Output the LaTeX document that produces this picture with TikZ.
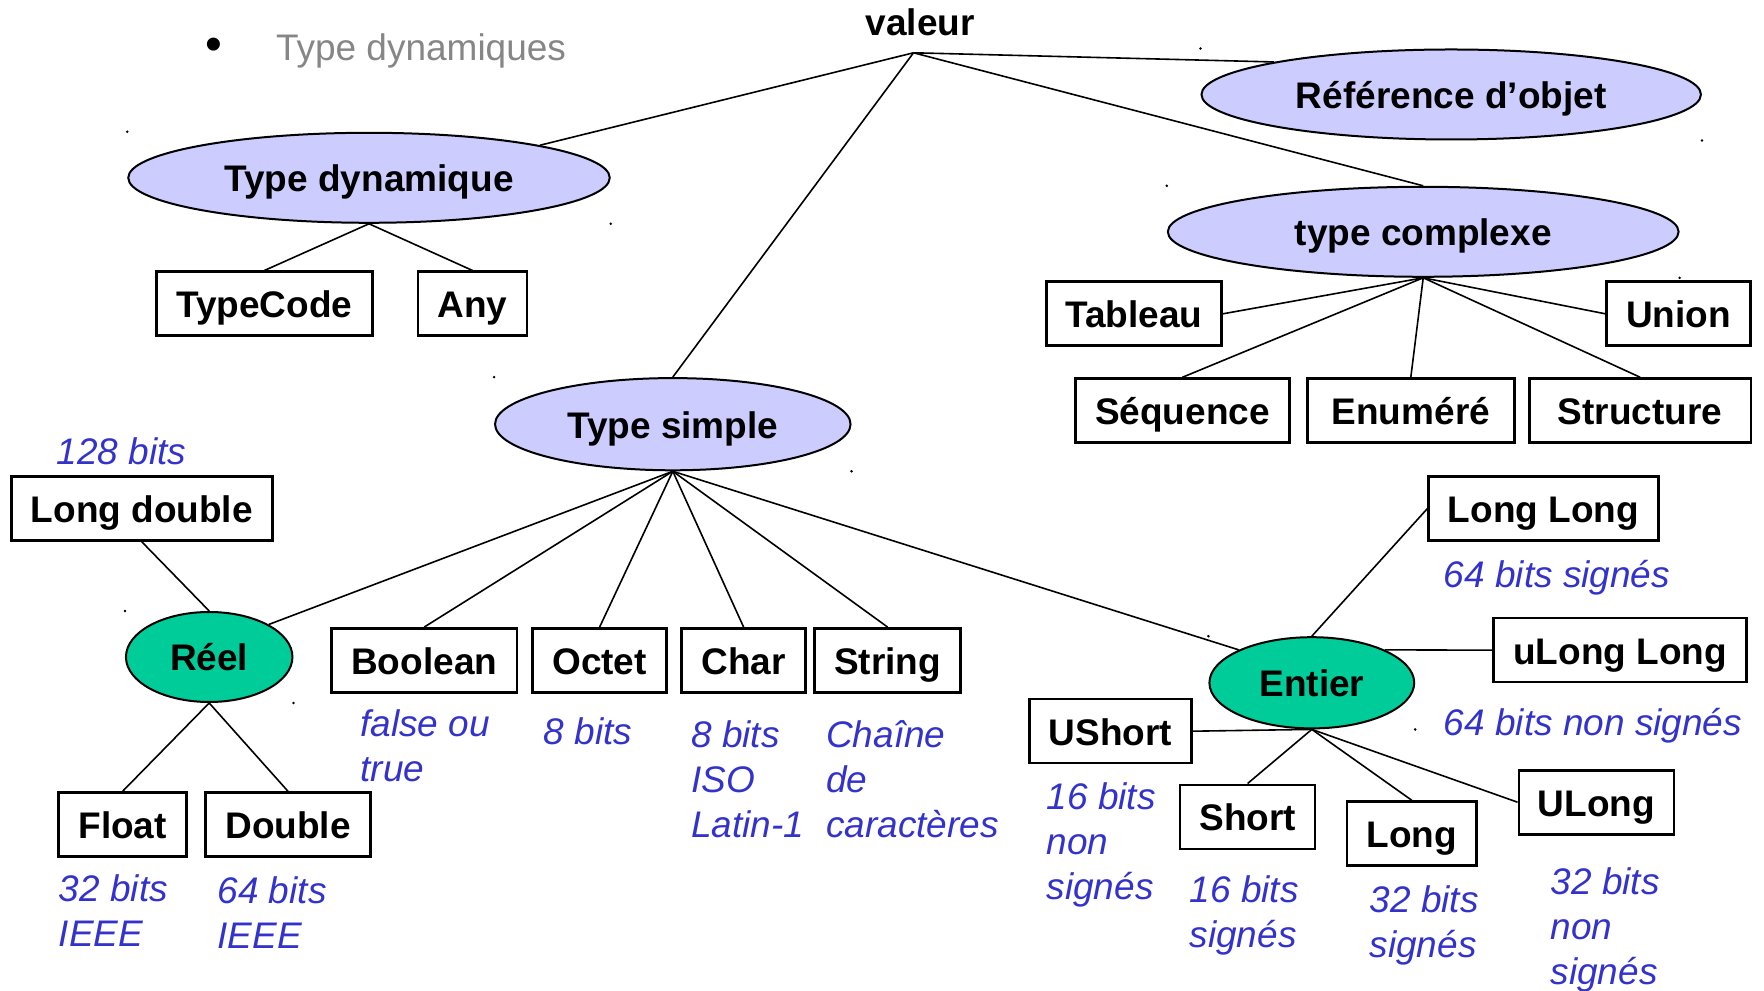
\documentclass[tikz,border=0pt]{standalone}
\usepackage{fontspec}
\setmainfont{Liberation Sans}
\usetikzlibrary{shapes.geometric}
\definecolor{lavande}{HTML}{CCCCFF}
\definecolor{vert}{HTML}{00CC99}
\definecolor{bleu}{HTML}{3333CC}
\definecolor{gris}{HTML}{868686}

\begin{document}
\begin{tikzpicture}[font=\fontsize{18.5}{22.5}\selectfont]

\useasboundingbox (0pt,0pt) rectangle (882pt,495pt);

\tikzset{TypeStyle/.style  = {ellipse, draw, line width=1pt, fill=lavande, inner sep=0pt, text height=14pt, text depth=0pt, font=\fontsize{18.5}{22.5}\selectfont\bfseries},
         NumStyle/.style   = {TypeStyle, fill=vert},
         LeafStyle/.style  = {rectangle, draw, line width=1.3pt, minimum height=32pt, inner sep=0pt, text height=14pt, text depth=0pt, font=\fontsize{18.5}{22.5}\selectfont\bfseries},
         NoteStyle/.style  = {anchor=west, align=left, inner sep=0pt, text=bleu, font=\fontsize{18.5}{22.5}\selectfont\itshape},
         EdgeStyle/.style  = {line width=.8pt, black}}


\node[inner sep=0pt, font=\fontsize{24}{24}\selectfont] (puce) at (106.9pt,470.2pt) {\textbullet};
\node[text=gris, anchor=west, inner sep=0pt] (titre) at (137.8pt,469.6pt) {Type dynamiques};

\node[font=\fontsize{18.5}{22.5}\selectfont\bfseries, inner sep=0pt] (valeur) at (460.1pt,483.75pt) {valeur};
\coordinate (racine) at (456.75pt,468.6pt);

\node[TypeStyle, minimum width=240.75pt, minimum height=45pt] (dyn) at (184.5pt,406.1pt) {Type dynamique};
\node[TypeStyle, minimum width=249.75pt, minimum height=45pt] (ref) at (725.6pt,447.75pt) {Référence d’objet};
\node[TypeStyle, minimum width=255.4pt, minimum height=45pt] (cplx) at (711.6pt,379.1pt) {type complexe};
\node[TypeStyle, minimum width=177.75pt, minimum height=46.1pt] (simple) at (336.4pt,282.9pt) {Type simple};
\node[NumStyle, minimum width=83.25pt, minimum height=45pt] (reel) at (104.6pt,166.5pt) {Réel};
\node[NumStyle, minimum width=102.4pt, minimum height=45.6pt] (entier) at (655.9pt,153.6pt) {Entier};

\node[LeafStyle, minimum width=108pt] (typecode) at (132.2pt,343.1pt) {TypeCode};
\node[LeafStyle, minimum width=54.6pt] (any) at (236.25pt,343.1pt) {Any};
\node[LeafStyle, minimum width=87.75pt] (tableau) at (567pt,338.1pt) {Tableau};
\node[LeafStyle, minimum width=72pt] (union) at (839.25pt,338.1pt) {Union};
\node[LeafStyle, minimum width=106.9pt] (sequence) at (591.2pt,289.7pt) {Séquence};
\node[LeafStyle, minimum width=103.5pt] (enumere) at (705.4pt,289.7pt) {Enuméré};
\node[LeafStyle, minimum width=110.8pt] (structure) at (820.1pt,289.7pt) {Structure};
\node[LeafStyle, minimum width=130.5pt] (longdouble) at (70.9pt,240.75pt) {Long double};
\node[LeafStyle, minimum width=92.8pt] (boolean) at (212.1pt,164.8pt) {Boolean};
\node[LeafStyle, minimum width=66.9pt] (octet) at (299.8pt,164.8pt) {Octet};
\node[LeafStyle, minimum width=61.9pt] (char) at (371.8pt,164.8pt) {Char};
\node[LeafStyle, minimum width=73.1pt] (string) at (443.8pt,164.8pt) {String};
\node[LeafStyle, minimum width=64.1pt] (float) at (61.3pt,82.7pt) {Float};
\node[LeafStyle, minimum width=82.7pt] (double) at (144pt,82.7pt) {Double};
\node[LeafStyle, minimum width=114.75pt] (longlong) at (771.75pt,240.75pt) {Long Long};
\node[LeafStyle, minimum width=126.6pt] (ulonglong) at (810pt,169.9pt) {uLong Long};
\node[LeafStyle, minimum width=81pt] (ushort) at (555.2pt,129.4pt) {UShort};
\node[LeafStyle, minimum width=67.5pt] (short) at (623.8pt,86.6pt) {Short};
\node[LeafStyle, minimum width=64.7pt] (long) at (705.9pt,78.2pt) {Long};
\node[LeafStyle, minimum width=77.6pt] (ulong) at (798.2pt,93.9pt) {ULong};

\node[NoteStyle] (n128) at (28.1pt,269.4pt) {128 bits};
\node[NoteStyle] (nboolean) at (180pt,122.1pt) {false ou\\true};
\node[NoteStyle] (noctet) at (271.7pt,129.4pt) {8 bits};
\node[NoteStyle] (nchar) at (345.4pt,105.2pt) {8 bits\\ISO\\Latin-1};
\node[NoteStyle] (nstring) at (412.9pt,105.2pt) {Chaîne\\de\\caractères};
\node[NoteStyle] (nfloat) at (29.25pt,39.7pt) {32 bits\\IEEE};
\node[NoteStyle] (ndouble) at (108.6pt,38.5pt) {64 bits\\IEEE};
\node[NoteStyle] (nlonglong) at (721.7pt,206.2pt) {64 bits signés};
\node[NoteStyle] (nulonglong) at (721.7pt,132pt) {64 bits non signés};
\node[NoteStyle] (nushort) at (523.1pt,72.3pt) {16 bits\\non\\signés};
\node[NoteStyle] (nshort) at (594.6pt,37.2pt) {16 bits\\signés};
\node[NoteStyle] (nlong) at (684.6pt,32.2pt) {32 bits\\signés};
\node[NoteStyle] (nulong) at (775.1pt,30.2pt) {32 bits\\non\\signés};

\fill (dyn.north -| dyn.west) circle (.7pt);
\fill (dyn.south -| dyn.east) circle (.7pt);
\fill (ref.north -| ref.west) circle (.7pt);
\fill (ref.south -| ref.east) circle (.7pt);
\fill (cplx.north -| cplx.west) circle (.7pt);
\fill (cplx.south -| cplx.east) circle (.7pt);
\fill (simple.north -| simple.west) circle (.7pt);
\fill (simple.south -| simple.east) circle (.7pt);
\fill (reel.north -| reel.west) circle (.7pt);
\fill (reel.south -| reel.east) circle (.7pt);
\fill (entier.north -| entier.west) circle (.7pt);
\fill (entier.south -| entier.east) circle (.7pt);

\draw[EdgeStyle] (racine) -- (dyn.north east);
\draw[EdgeStyle] (racine) -- (ref.north west);
\draw[EdgeStyle] (racine) -- (cplx.north);
\draw[EdgeStyle] (racine) -- (simple.north);

\draw[EdgeStyle] (dyn.south) -- (typecode.north);
\draw[EdgeStyle] (dyn.south) -- (any.north);

\draw[EdgeStyle] (cplx.south) -- (tableau.east);
\draw[EdgeStyle] (cplx.south) -- (sequence.north);
\draw[EdgeStyle] (cplx.south) -- (enumere.north);
\draw[EdgeStyle] (cplx.south) -- (structure.north);
\draw[EdgeStyle] (cplx.south) -- (union.west);

\draw[EdgeStyle] (simple.south) -- (reel.north east);
\draw[EdgeStyle] (simple.south) -- (boolean.north);
\draw[EdgeStyle] (simple.south) -- (octet.north);
\draw[EdgeStyle] (simple.south) -- (char.north);
\draw[EdgeStyle] (simple.south) -- (string.north);
\draw[EdgeStyle] (simple.south) -- (entier.north west);

\draw[EdgeStyle] (longdouble.south) -- (reel.north);
\draw[EdgeStyle] (reel.south) -- (float.north);
\draw[EdgeStyle] (reel.south) -- (double.north);

\draw[EdgeStyle] (entier.north) -- (longlong.west);
\draw[EdgeStyle] (entier.north east) -- (ulonglong.west);
\draw[EdgeStyle] (entier.south) -- (ushort.east);
\draw[EdgeStyle] (entier.south) -- (short.north);
\draw[EdgeStyle] (entier.south) -- (long.north);
\draw[EdgeStyle] (entier.south) -- (ulong.west);

\end{tikzpicture}
\end{document}
